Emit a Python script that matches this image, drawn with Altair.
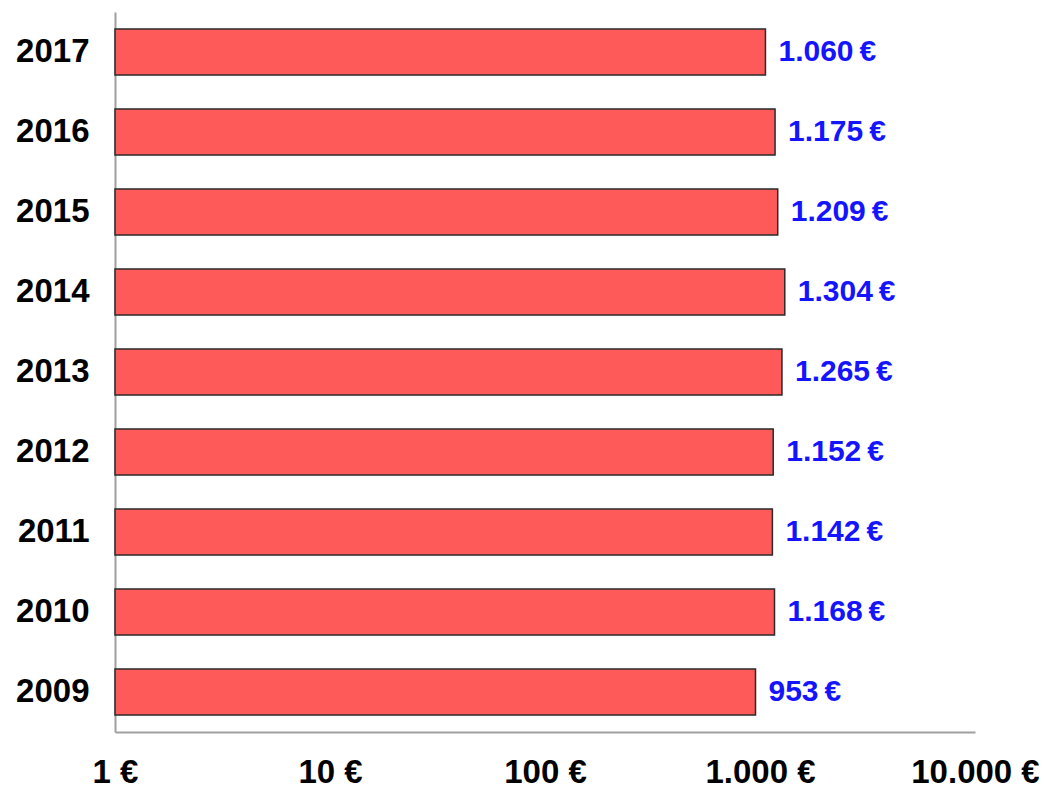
import altair as alt
import pandas as pd

years = ["2017", "2016", "2015", "2014", "2013", "2012", "2011", "2010", "2009"]
values = [1060, 1175, 1209, 1304, 1265, 1152, 1142, 1168, 953]
x_ticks = [1, 10, 100, 1000, 10000]

labels = [f"{v:,}".replace(",", ".") + "\u2009€" for v in values]
df = pd.DataFrame({"year": years, "value": values, "label": labels})

FONT = "Liberation Sans"
xscale = alt.Scale(type="log", domain=[1, 10000], nice=False)

x = alt.X(
    "value:Q",
    scale=xscale,
    axis=alt.Axis(
        values=x_ticks,
        labelExpr="replace(format(datum.value, ',d'), ',', '.') + ' €'",
        title=None,
        grid=False,
        ticks=False,
        domainColor="#a0a0a0",
        domainWidth=2,
        labelFont=FONT,
        labelFontSize=33,
        labelFontWeight="bold",
        labelColor="#000000",
        labelPadding=24,
        labelFlush=False,
        labelOverlap=False,
    ),
)
y = alt.Y(
    "year:N",
    sort=years,
    scale=alt.Scale(paddingInner=0.425, paddingOuter=0.2125),
    axis=alt.Axis(
        title=None,
        ticks=False,
        domainColor="#a0a0a0",
        domainWidth=2,
        labelFont=FONT,
        labelFontSize=33,
        labelFontWeight="bold",
        labelColor="#000000",
        labelPadding=26,
    ),
)

bars = alt.Chart(df).mark_bar(
    color="#FF5A5A", stroke="#2a2a2a", strokeWidth=1.5
).encode(x=x, x2=alt.datum(1), y=y)

text = alt.Chart(df).mark_text(
    align="left", baseline="middle", dx=13, font=FONT, fontSize=30,
    fontWeight="bold", color="#1414FF"
).encode(x=alt.X("value:Q", scale=xscale),
         y=alt.Y("year:N", sort=years), text="label:N")

chart = (bars + text).properties(
    width=860, height=720,
    autosize=alt.AutoSizeParams(type="none"),
    padding={"left": 107, "top": 4, "right": 64, "bottom": 57},
).configure_view(stroke=None)

chart.save("out.html", embed_options={"renderer": "svg", "actions": False})
